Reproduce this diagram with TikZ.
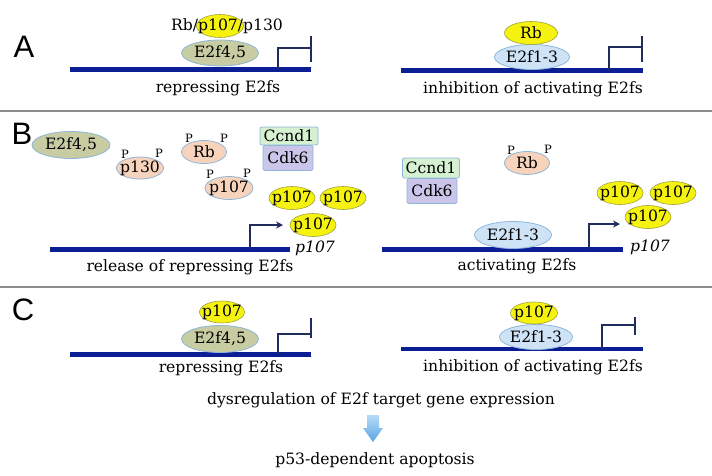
\documentclass[tikz,border=0pt]{standalone}
\usepackage{fontspec}
\setmainfont{DejaVu Serif}
\newfontfamily\panelfont{Liberation Sans}
\usetikzlibrary{shapes.geometric,arrows.meta}
\definecolor{dnacol}{HTML}{0B1E96}
\definecolor{promcol}{HTML}{1F2C5C}
\definecolor{edgecol}{HTML}{8DB6DA}
\definecolor{olivecol}{HTML}{C7CCA2}
\definecolor{e2fcol}{HTML}{CFE3F6}
\definecolor{yelcol}{HTML}{F4F20E}
\definecolor{yeledge}{HTML}{A0A040}
\definecolor{peachcol}{HTML}{F7D3BC}
\definecolor{greencol}{HTML}{D6F0D2}
\definecolor{lavcol}{HTML}{CBC5EA}
\definecolor{sepcol}{HTML}{8C8C8C}
\definecolor{arrtop}{HTML}{B5DBF7}
\definecolor{arrbot}{HTML}{5BA4E4}
\tikzset{
  mol/.style={ellipse, draw=edgecol, line width=0.8pt, inner sep=0pt},
  olv/.style={mol, fill=olivecol},
  e2f/.style={mol, fill=e2fcol},
  pch/.style={mol, fill=peachcol},
  yel/.style={ellipse, draw=yeledge, line width=0.6pt, fill=yelcol, inner sep=0pt, minimum width=46pt, minimum height=23pt},
  txt/.style={font=\fontsize{15.6}{18}\selectfont, inner sep=0pt},
  itxt/.style={font=\fontsize{15.6}{18}\selectfont\itshape, inner sep=0pt},
  ptxt/.style={font=\fontsize{11.5}{13}\selectfont, inner sep=0pt},
  panel/.style={font=\panelfont\fontsize{31}{34}\selectfont, inner sep=0pt},
  boxg/.style={rectangle, rounded corners=2pt, draw=edgecol, line width=0.8pt, fill=greencol, inner sep=0pt},
  boxl/.style={rectangle, rounded corners=2pt, draw=edgecol, line width=0.8pt, fill=lavcol, inner sep=0pt},
  dnaline/.style={draw=dnacol, line width=5pt},
  promline/.style={draw=promcol, line width=2pt},
  promarrow/.style={draw=promcol, line width=2pt, -{Stealth[length=7pt,width=7pt]}},
  sep/.style={draw=sepcol, line width=1.5pt},
}
\begin{document}
\begin{tikzpicture}[x=1pt,y=-1pt]
\useasboundingbox (0,0) rectangle (712,475);
% separators
\coordinate (s1l) at (0,111); \coordinate (s1r) at (712,111);
\coordinate (s2l) at (0,287); \coordinate (s2r) at (712,287);
\draw[sep] (s1l) -- (s1r);
\draw[sep] (s2l) -- (s2r);
% panel labels
\node[panel] (lA) at (24,47) {A};
\node[panel] (lB) at (22,134) {B};
\node[panel] (lC) at (23,310) {C};

% ===== Panel A left =====
\coordinate (a1s) at (70,69); \coordinate (a1e) at (311,69);
\draw[dnaline] (a1s) -- (a1e);
\coordinate (a1p) at (278,69); \coordinate (a1t) at (311,48);
\coordinate (a1bt) at (311,36); \coordinate (a1bb) at (311,62);
\draw[promline] (a1p) |- (a1t);
\draw[promline] (a1bt) -- (a1bb);
\node[olv, minimum width=77pt, minimum height=26pt] (a1e2f) at (220,53) {};
\node[txt] at (a1e2f) {E2f4,5};
\node[yel, minimum width=47pt] (a1y) at (220,26) {};
\node[txt] (a1lab) at (227,26) {Rb/p107/p130};
\node[txt] (a1cap) at (218,88) {repressing E2fs};

% ===== Panel A right =====
\coordinate (a2s) at (401,70); \coordinate (a2e) at (643,70);
\draw[dnaline] (a2s) -- (a2e);
\coordinate (a2p) at (609,70); \coordinate (a2t) at (642,47);
\coordinate (a2bt) at (642,36); \coordinate (a2bb) at (642,62);
\draw[promline] (a2p) |- (a2t);
\draw[promline] (a2bt) -- (a2bb);
\node[e2f, minimum width=75pt, minimum height=25pt] (a2e2f) at (532,57) {};
\node[txt] at (a2e2f) {E2f1-3};
\node[yel, minimum width=53pt] (a2rb) at (531,33) {};
\node[txt] at (a2rb) {Rb};
\node[txt] (a2cap) at (533,89) {inhibition of activating E2fs};

% ===== Panel B left =====
\node[olv, minimum width=78pt, minimum height=27pt] (b1e2f) at (71,145) {};
\node[txt] at (b1e2f) {E2f4,5};
\node[pch, minimum width=47pt, minimum height=22pt] (b1p130) at (140,168) {};
\node[txt] at (b1p130) {p130};
\node[ptxt] at (125,154) {P}; \node[ptxt] at (159,153) {P};
\node[pch, minimum width=45pt, minimum height=23pt] (b1rb) at (204,152) {};
\node[txt] at (b1rb) {Rb};
\node[ptxt] at (189,138) {P}; \node[ptxt] at (224,138) {P};
\node[pch, minimum width=48pt, minimum height=23pt] (b1p107) at (229,188) {};
\node[txt] at (b1p107) {p107};
\node[ptxt] at (210,174) {P}; \node[ptxt] at (247,173) {P};
\node[boxg, minimum width=58pt, minimum height=18pt] (b1ccnd) at (289,136) {};
\node[txt] at (b1ccnd) {Ccnd1};
\node[boxl, minimum width=50pt, minimum height=25pt, anchor=north] (b1cdk) at (288,145) {};
\node[txt] at (b1cdk) {Cdk6};
\node[yel] (b1y1) at (292,198) {}; \node[txt] at (b1y1) {p107};
\node[yel] (b1y2) at (343,198) {}; \node[txt] at (b1y2) {p107};
\node[yel] (b1y3) at (313,225) {}; \node[txt] at (b1y3) {p107};
\coordinate (b1s) at (50,249); \coordinate (b1e) at (290,249);
\draw[dnaline] (b1s) -- (b1e);
\coordinate (b1p) at (250,249); \coordinate (b1t) at (283,225);
\draw[promarrow] (b1p) |- (b1t);
\node[itxt] (b1gene) at (315,248) {p107};
\node[txt] (b1cap) at (190,267) {release of repressing E2fs};

% ===== Panel B right =====
\node[boxg, minimum width=57pt, minimum height=20pt] (b2ccnd) at (431,168) {};
\node[txt] at (b2ccnd) {Ccnd1};
\node[boxl, minimum width=50pt, minimum height=25pt, anchor=north] (b2cdk) at (432,178) {};
\node[txt] at (b2cdk) {Cdk6};
\node[pch, minimum width=45pt, minimum height=23pt] (b2rb) at (527,163) {};
\node[txt] at (b2rb) {Rb};
\node[ptxt] at (511,150) {P}; \node[ptxt] at (548,149) {P};
\node[yel] (b2y1) at (620,193) {}; \node[txt] at (b2y1) {p107};
\node[yel] (b2y2) at (673,193) {}; \node[txt] at (b2y2) {p107};
\node[yel] (b2y3) at (648,217) {}; \node[txt] at (b2y3) {p107};
\coordinate (b2s) at (382,249); \coordinate (b2e) at (623,249);
\draw[dnaline] (b2s) -- (b2e);
\node[e2f, minimum width=77pt, minimum height=27pt] (b2e2f) at (513,235) {};
\node[txt] at (b2e2f) {E2f1-3};
\coordinate (b2p) at (589,249); \coordinate (b2t) at (620,224);
\draw[promarrow] (b2p) |- (b2t);
\node[itxt] (b2gene) at (650,247) {p107};
\node[txt] (b2cap) at (517,266) {activating E2fs};

% ===== Panel C left =====
\coordinate (c1s) at (70,354); \coordinate (c1e) at (311,354);
\draw[dnaline] (c1s) -- (c1e);
\coordinate (c1p) at (278,354); \coordinate (c1t) at (311,334);
\coordinate (c1bt) at (311,318); \coordinate (c1bb) at (311,338);
\draw[promline] (c1p) |- (c1t);
\draw[promline] (c1bt) -- (c1bb);
\node[olv, minimum width=77pt, minimum height=27pt] (c1e2f) at (220,339) {};
\node[txt] at (c1e2f) {E2f4,5};
\node[yel, minimum width=45pt, minimum height=22pt] (c1y) at (222,312) {};
\node[txt] at (c1y) {p107};
\node[txt] (c1cap) at (221,368) {repressing E2fs};

% ===== Panel C right =====
\coordinate (c2s) at (401,349); \coordinate (c2e) at (643,349);
\draw[draw=dnacol, line width=4pt] (c2s) -- (c2e);
\coordinate (c2p) at (602,349); \coordinate (c2t) at (635,325);
\coordinate (c2bt) at (635,317); \coordinate (c2bb) at (635,335);
\draw[promline] (c2p) |- (c2t);
\draw[promline] (c2bt) -- (c2bb);
\node[e2f, minimum width=73pt, minimum height=25pt] (c2e2f) at (536,337) {};
\node[txt] at (c2e2f) {E2f1-3};
\node[yel, minimum width=47pt, minimum height=22pt] (c2y) at (534,313) {};
\node[txt] at (c2y) {p107};
\node[txt] (c2cap) at (533,367) {inhibition of activating E2fs};

% bottom
\node[txt] (dys) at (381,400) {dysregulation of E2f target gene expression};
\node[txt] (apo) at (375,460) {p53-dependent apoptosis};
\shade[top color=arrtop, bottom color=arrbot]
  (367,415) -- (379,415) -- (379,428) -- (383,428) -- (373,442) -- (363,428) -- (367,428) -- cycle;
\end{tikzpicture}
\end{document}
